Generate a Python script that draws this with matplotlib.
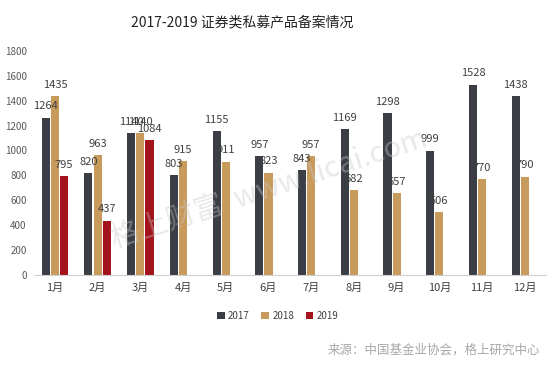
import numpy as np
import matplotlib
matplotlib.use('Agg')
import matplotlib.pyplot as plt

plt.rcParams['font.family'] = ['Noto Sans CJK SC', 'DejaVu Sans']

# data
months = ['1月', '2月', '3月', '4月', '5月', '6月', '7月', '8月', '9月', '10月', '11月', '12月']
v2017 = [1264, 820, 1140, 803, 1155, 957, 843, 1169, 1298, 999, 1528, 1438]
v2018 = [1435, 963, 1140, 915, 911, 823, 957, 682, 657, 506, 770, 790]
v2019 = [795, 437, 1084]
years = ['2017', '2018', '2019']
colors = ['#3b3e45', '#c89a5c', '#a3131b']

fig = plt.figure(figsize=(5.5, 3.65), dpi=100)
ax = fig.add_axes([0.061, 0.2466, 0.932, 0.614])

x = np.arange(len(months))
w = 0.19
step = 0.215
series = [v2017, v2018, v2019]
for i, (vals, c, lab) in enumerate(zip(series, colors, years)):
    xs = x[:len(vals)] + (i - 1) * step
    ax.bar(xs, vals, width=w, color=c, label=lab, zorder=2)
    # value labels
    for xi, v in zip(xs, vals):
        ax.annotate(str(v), (xi, v), xytext=(0, 4.5), textcoords='offset points',
                    ha='center', va='bottom', fontsize=8, color='#404040', zorder=3)

ax.set_xlim(-0.5, 11.5)
ax.set_ylim(0, 1800)
ax.set_yticks(np.arange(0, 1801, 200))
ax.set_xticks(x)
ax.set_xticklabels(months)
ax.tick_params(axis='y', length=0, labelsize=7, colors='#595959', pad=5)
ax.tick_params(axis='x', length=0, labelsize=8, colors='#404040', pad=6)
for s in ['top', 'right', 'left']:
    ax.spines[s].set_visible(False)
ax.spines['bottom'].set_color('#d0d0d0')

fig.text(0.44, 0.94, '2017-2019 证券类私募产品备案情况', ha='center', va='center',
         fontsize=10, color='#222222')

fig.legend(loc='center', bbox_to_anchor=(0.505, 0.134), ncol=3, frameon=False,
           fontsize=7, handlelength=0.8, handleheight=0.8, handletextpad=0.3,
           columnspacing=1.2, labelcolor='#404040')

fig.text(0.982, 0.04, '来源：中国基金业协会，格上研究中心', ha='right', va='center',
         fontsize=9, color='#a8a8a8')

# watermark
fig.text(0.49, 0.48, '格上财富  www.licai.com', ha='center', va='center',
         rotation=18, fontsize=21, color='#c8c8c8', alpha=0.4, zorder=10)

fig.savefig('out.png', dpi=100)
